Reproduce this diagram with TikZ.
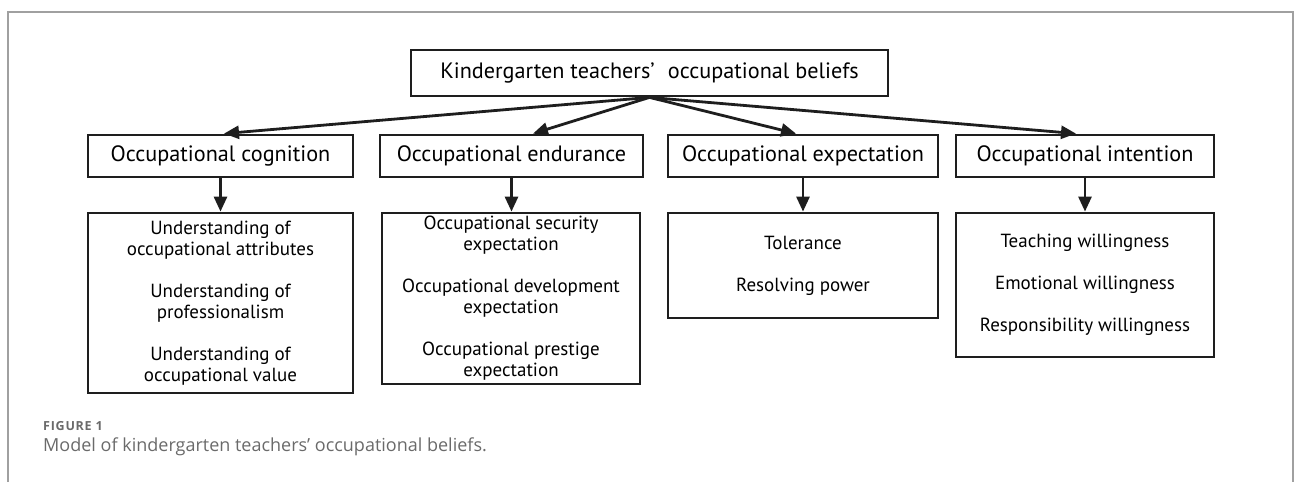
\documentclass[tikz,border=0pt]{standalone}
\usepackage{fontspec}
\setmainfont{PT Sans}
\newfontfamily\capfont{Open Sans}
\newfontfamily\figfont[LetterSpace=6]{Open Sans}
\usetikzlibrary{arrows.meta}
\definecolor{boxc}{HTML}{1E1E1E}
\definecolor{framec}{HTML}{A0A0A0}
\definecolor{capc}{HTML}{6A6A6A}
\begin{document}
\begin{tikzpicture}[x=1pt,y=-1pt,
  box/.style={draw=boxc, line width=2.8pt, inner sep=0pt, align=center, text=black},
  headbox/.style={box, minimum height=42pt, font=\fontsize{22.2}{26}\selectfont},
  listbox/.style={box, font=\fontsize{19}{21}\selectfont},
  link/.style={draw=boxc, line width=2.8pt, -{Triangle[length=15pt,width=13pt]}}
]
\useasboundingbox (0,0) rectangle (1295,482);
\draw[framec, line width=1.3pt] (8,482) -- (8,12) -- (1293,12) -- (1293,482);

\node[headbox, minimum width=477pt, minimum height=46pt] (top) at (649.5,73) {Kindergarten teachers’\hspace{0.6em}occupational beliefs};

\node[headbox, minimum width=265pt] (c1) at (220.5,156) {Occupational cognition};
\node[headbox, minimum width=263pt] (c2) at (511.5,156) {Occupational endurance};
\node[headbox, minimum width=270pt] (c3) at (803,156) {Occupational expectation};
\node[headbox, minimum width=258pt] (c4) at (1085,156) {Occupational intention};

\node[listbox, minimum width=265pt, minimum height=180pt] (d1) at (220.5,303)
  {Understanding of\\occupational attributes\\[21pt]Understanding of\\professionalism\\[21pt]Understanding of\\occupational value};
\node[listbox, minimum width=258pt, minimum height=171pt] (d2) at (511,298.5)
  {Occupational security\\expectation\\[21pt]Occupational development\\expectation\\[21pt]Occupational prestige\\expectation};
\node[listbox, minimum width=270pt, minimum height=105pt] (d3) at (803,265.5)
  {Tolerance\\[21pt]Resolving power};
\node[listbox, minimum width=258pt, minimum height=144pt] (d4) at (1085,285)
  {Teaching willingness\\[21pt]Emotional willingness\\[21pt]Responsibility willingness};

\draw[link] (top.south) -- ([xshift=3.5pt]c1.north);
\draw[link] (top.south) -- ([xshift=21.5pt]c2.north);
\draw[link] (top.south) -- ([xshift=-7pt]c3.north);
\draw[link] (top.south) -- ([xshift=-9pt]c4.north);

\draw[link] (c1.south) -- (d1.north);
\draw[link] (c2.south) -- (c2.south |- d2.north);
\draw[link] (c3.south) -- (d3.north);
\draw[link] (c4.south) -- (d4.north);

\node[anchor=west, text=capc, inner sep=0pt] (fig) at (43,426) {\figfont\fontsize{12.5}{15}\selectfont\bfseries FIGURE 1};
\node[anchor=west, text=capc, inner sep=0pt] (cap) at (43,447) {\capfont\fontsize{18}{21}\selectfont Model of kindergarten teachers’ occupational beliefs.};
\end{tikzpicture}
\end{document}
